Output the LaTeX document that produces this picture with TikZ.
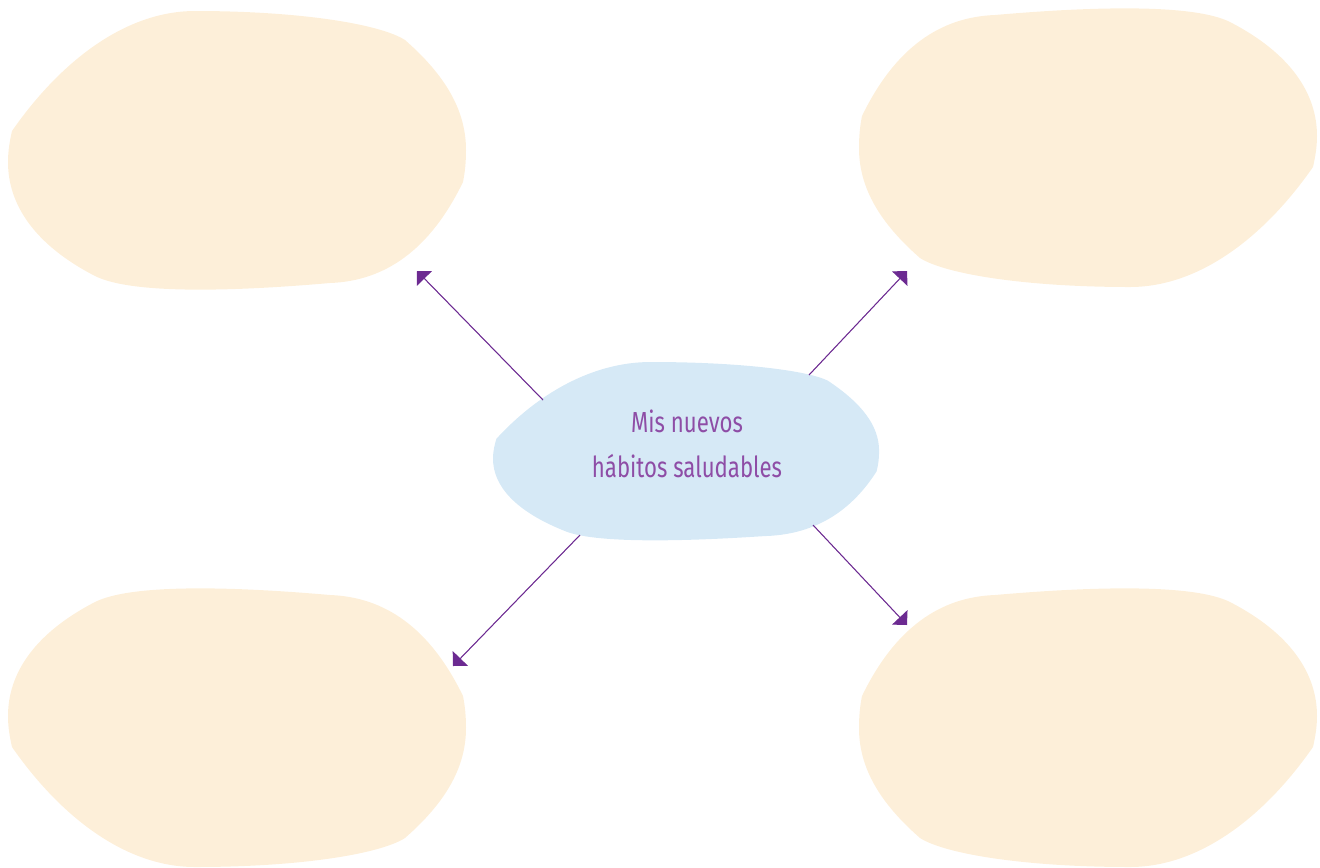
\documentclass[tikz,border=0pt]{standalone}
\usepackage{fontspec}
\usepackage{tikz}
\usetikzlibrary{arrows.meta,positioning,calc}
\usepackage{xcolor}
\newfontfamily\hbfont[FakeStretch=0.765]{Fira Sans}
\definecolor{hbcream}{HTML}{FDEFD9}
\definecolor{hbblue}{HTML}{D6E9F6}
\definecolor{hbpurple}{HTML}{6C2A91}
\definecolor{hbtext}{HTML}{8E4DA6}
\tikzset{
  hbblob/.style={fill=hbcream, draw=none},
  hbcore/.style={fill=hbblue, draw=none},
  hbarrow/.style={-{Triangle[length=6pt, width=12pt]}, line width=0.6pt, draw=hbpurple, fill=hbpurple},
  hblabel/.style={align=center, text=hbtext, font=\hbfont\fontsize{16.5}{25.6}\selectfont, inner sep=0pt},
}
\newcommand{\hbshape}{(12,131) .. controls (60,62) and (125,11) .. (195,11)
  .. controls (300,11) and (380,24) .. (405,40)
  .. controls (445,75) and (466,110) .. (466,150) .. controls (466,162) and (465,172) .. (463,182)
  .. controls (430,250) and (385,281) .. (330,283)
  .. controls (250,290) and (135,296) .. (95,276)
  .. controls (35,245) and (8,205) .. (8,162) .. controls (8,150) and (10,140) .. cycle}

\begin{document}
\begin{tikzpicture}[x=0.02cm, y=-0.02cm]
  \useasboundingbox (0,0) rectangle (1320,867);
  \fill[hbblob] \hbshape;
  \fill[hbblob, shift={(1325,298)}, scale=-1] \hbshape;
  \fill[hbblob, shift={(0,878)}, yscale=-1] \hbshape;
  \fill[hbblob, shift={(1325,878)}, scale=-1] \hbshape;
  \fill[hbcore, shift={(493,362)}, xscale=0.843, yscale=0.64, shift={(-8,-11)}] \hbshape;

  \node[hblabel] (habits) at (687,444) {Mis nuevos\\hábitos saludables};

  \coordinate (ul-from) at (543,400);
  \coordinate (ul-to) at (417,271);
  \coordinate (ur-from) at (809,375);
  \coordinate (ur-to) at (907,271);
  \coordinate (ll-from) at (580,535);
  \coordinate (ll-to) at (453,666);
  \coordinate (lr-from) at (813,525);
  \coordinate (lr-to) at (907,625);

  \draw[hbarrow] (ul-from) -- (ul-to);
  \draw[hbarrow] (ur-from) -- (ur-to);
  \draw[hbarrow] (ll-from) -- (ll-to);
  \draw[hbarrow] (lr-from) -- (lr-to);
\end{tikzpicture}
\end{document}
